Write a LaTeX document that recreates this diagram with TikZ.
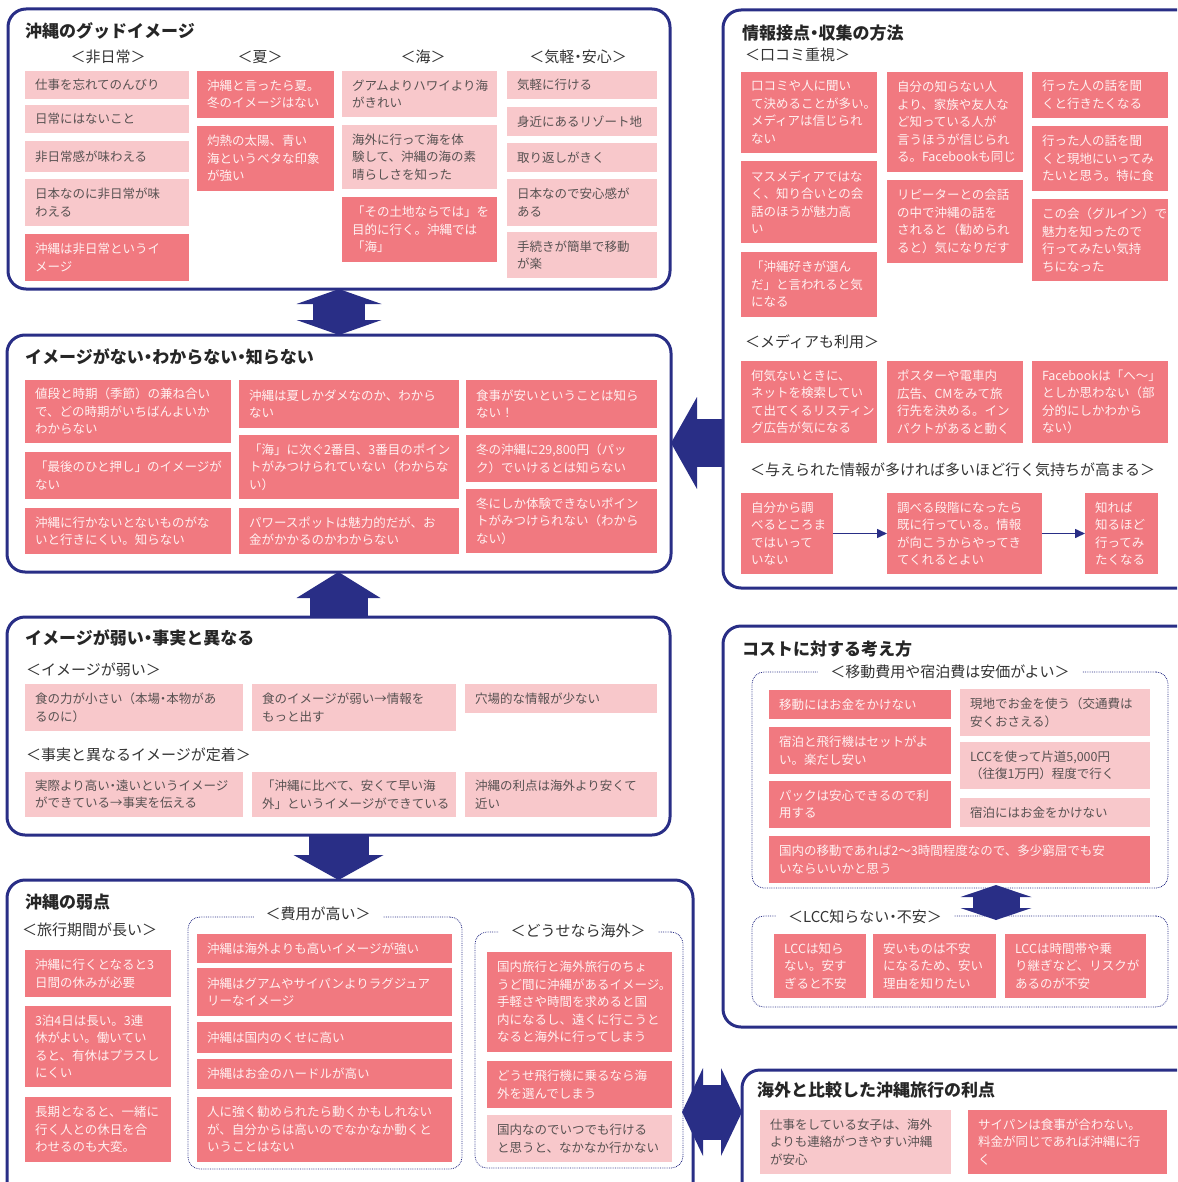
\documentclass[tikz,border=0pt]{standalone}
\usepackage{fontspec}
\setmainfont{Noto Sans CJK JP}
\usetikzlibrary{arrows.meta}

\definecolor{navy}{RGB}{41,46,134}
\definecolor{roze}{RGB}{241,121,128}
\definecolor{bledoroze}{RGB}{248,200,203}
\definecolor{svetlotekst}{RGB}{255,241,241}
\definecolor{tamnotekst}{RGB}{88,82,82}

\newcommand{\tacka}{\makebox[0.5em]{・}}

\begin{document}
\begin{tikzpicture}[x=1pt, y=-1pt,
    okvir/.style={rectangle, rounded corners=18pt, draw=navy, line width=3pt,
                  anchor=north west, inner sep=0pt, outer sep=0pt},
    grupa/.style={rectangle, rounded corners=12pt, draw=navy, densely dotted, line width=0.8pt,
                  anchor=north west, inner sep=0pt, outer sep=0pt},
    naslov/.style={anchor=west, inner sep=0pt, text=black!85,
                   font=\fontsize{17}{20}\selectfont\bfseries},
    podnaslov/.style={inner sep=0pt, text=black!80, font=\fontsize{15}{18}\selectfont},
    natpis/.style={podnaslov, fill=white, inner xsep=12pt, inner ysep=2pt},
    tamno/.style={rectangle, fill=roze, text=svetlotekst, anchor=north west, align=left,
                  inner xsep=10pt, inner ysep=2pt, outer sep=0pt,
                  font=\fontsize{12.5}{17.5}\selectfont},
    svetlo/.style={tamno, fill=bledoroze, text=tamnotekst},
    blok/.style={draw=navy},
    tok/.style={draw=navy, line width=1.5pt, -{Triangle[length=10pt, width=9pt]}}]

    \useasboundingbox (0,0) rectangle (1177,1182);
    \clip (0,0) rectangle (1177,1182);

    % ---------------- okviri ----------------
    \node (good)   [okvir, minimum width=662pt, minimum height=280pt] at (8,9)      {};
    \node (none)   [okvir, minimum width=664pt, minimum height=237pt] at (7,335)    {};
    \node (weak)   [okvir, minimum width=663pt, minimum height=218pt] at (7,617)    {};
    \node (points) [okvir, minimum width=686pt, minimum height=400pt] at (7,880)    {};
    \node (info)   [okvir, minimum width=500pt, minimum height=578pt] at (723,10)   {};
    \node (cost)   [okvir, minimum width=500pt, minimum height=401pt] at (723,626)  {};
    \node (merit)  [okvir, minimum width=480pt, minimum height=200pt] at (742,1070) {};

    \node (gk) [grupa, minimum width=274pt, minimum height=252pt] at (188,917) {};
    \node (gd) [grupa, minimum width=208pt, minimum height=236pt] at (475,932) {};
    \node (gi) [grupa, minimum width=416pt, minimum height=216pt] at (752,672) {};
    \node (gl) [grupa, minimum width=416pt, minimum height=91pt]  at (752,916) {};

    % ---------------- naslovi ----------------
    \node (t1) [naslov] at (25,31)    {沖縄のグッドイメージ};
    \node (t2) [naslov] at (25,357)   {イメージがない\tacka わからない\tacka 知らない};
    \node (t3) [naslov] at (25,638)   {イメージが弱い\tacka 事実と異なる};
    \node (t4) [naslov] at (25,902)   {沖縄の弱点};
    \node (t5) [naslov] at (742,33)   {情報接点\tacka 収集の方法};
    \node (t6) [naslov] at (742,649)  {コストに対する考え方};
    \node (t7) [naslov] at (757,1090) {海外と比較した沖縄旅行の利点};

    \node (h1)  [podnaslov] at (108,57) {＜非日常＞};
    \node (h2)  [podnaslov] at (260,57) {＜夏＞};
    \node (h3)  [podnaslov] at (423,57) {＜海＞};
    \node (h4)  [podnaslov] at (578,57) {＜気軽\tacka 安心＞};
    \node (h5)  [podnaslov, anchor=west] at (745,55)  {＜口コミ重視＞};
    \node (h6)  [podnaslov, anchor=west] at (745,342) {＜メディアも利用＞};
    \node (h7)  [podnaslov, anchor=west] at (750,470) {＜与えられた情報が多ければ多いほど行く気持ちが高まる＞};
    \node (h8)  [podnaslov, anchor=west] at (26,670)  {＜イメージが弱い＞};
    \node (h9)  [podnaslov, anchor=west] at (26,755)  {＜事実と異なるイメージが定着＞};
    \node (h10) [podnaslov, anchor=west] at (22,930)  {＜旅行期間が長い＞};

    \node (l1) [natpis] at (318,914) {＜費用が高い＞};
    \node (l2) [natpis] at (578,931) {＜どうせなら海外＞};
    \node (l3) [natpis] at (950,672) {＜移動費用や宿泊費は安価がよい＞};
    \node (l4) [natpis] at (865,917) {＜LCC知らない\tacka 不安＞};

    % ---------------- 沖縄のグッドイメージ ----------------
    \node (a1) [svetlo, text width=144pt, minimum height=28pt] at (25,71)  {仕事を忘れてのんびり};
    \node (a2) [svetlo, text width=144pt, minimum height=28pt] at (25,105) {日常にはないこと};
    \node (a3) [svetlo, text width=144pt, minimum height=31pt] at (25,141) {非日常感が味わえる};
    \node (a4) [svetlo, text width=144pt, minimum height=47pt] at (25,179) {日本なのに非日常が味\\わえる};
    \node (a5) [tamno,  text width=144pt, minimum height=47pt] at (25,234) {沖縄は非日常というイ\\メージ};
    \node (b1) [tamno,  text width=117pt, minimum height=47pt] at (197,71)  {沖縄と言ったら夏。\\冬のイメージはない};
    \node (b2) [tamno,  text width=117pt, minimum height=65pt] at (197,126) {灼熱の太陽、青い\\海というベタな印象\\が強い};
    \node (c1) [svetlo, text width=135pt, minimum height=46pt] at (342,71)  {グアムよりハワイより海\\がきれい};
    \node (c2) [svetlo, text width=135pt, minimum height=64pt] at (342,125) {海外に行って海を体\\験して、沖縄の海の素\\晴らしさを知った};
    \node (c3) [tamno,  text width=135pt, minimum height=65pt] at (342,197) {「その土地ならでは」を\\目的に行く。沖縄では\\「海」};
    \node (d1) [svetlo, text width=130pt, minimum height=28pt] at (507,71)  {気軽に行ける};
    \node (d2) [svetlo, text width=130pt, minimum height=29pt] at (507,107) {身近にあるリゾート地};
    \node (d3) [svetlo, text width=130pt, minimum height=29pt] at (507,143) {取り返しがきく};
    \node (d4) [svetlo, text width=130pt, minimum height=47pt] at (507,179) {日本なので安心感が\\ある};
    \node (d5) [svetlo, text width=130pt, minimum height=46pt] at (507,232) {手続きが簡単で移動\\が楽};

    % ---------------- イメージがない ----------------
    \node (e1) [tamno, text width=186pt, minimum height=63pt] at (25,380)  {値段と時期（季節）の兼ね合い\\で、どの時期がいちばんよいか\\わからない};
    \node (e2) [tamno, text width=186pt, minimum height=47pt] at (25,452)  {「最後のひと押し」のイメージが\\ない};
    \node (e3) [tamno, text width=186pt, minimum height=46pt] at (25,508)  {沖縄に行かないとないものがな\\いと行きにくい。知らない};
    \node (e4) [tamno, text width=200pt, minimum height=48pt] at (239,380) {沖縄は夏しかダメなのか、わから\\ない};
    \node (e5) [tamno, text width=200pt, minimum height=64pt] at (239,435) {「海」に次ぐ2番目、3番目のポイン\\トがみつけられていない（わからな\\い）};
    \node (e6) [tamno, text width=200pt, minimum height=46pt] at (239,508) {パワースポットは魅力的だが、お\\金がかかるのかわからない};
    \node (e7) [tamno, text width=171pt, minimum height=48pt] at (466,380) {食事が安いということは知ら\\ない！};
    \node (e8) [tamno, text width=171pt, minimum height=47pt] at (466,435) {冬の沖縄に29,800円（パッ\\ク）でいけるとは知らない};
    \node (e9) [tamno, text width=171pt, minimum height=64pt] at (466,489) {冬にしか体験できないポイン\\トがみつけられない（わから\\ない）};

    % ---------------- イメージが弱い ----------------
    \node (w1) [svetlo, text width=198pt, minimum height=47pt] at (25,684)  {食の力が小さい（本場\tacka 本物があ\\るのに）};
    \node (w2) [svetlo, text width=184pt, minimum height=47pt] at (252,684) {食のイメージが弱い→情報を\\もっと出す};
    \node (w3) [svetlo, text width=172pt, minimum height=29pt] at (465,684) {穴場的な情報が少ない};
    \node (w4) [svetlo, text width=198pt, minimum height=45pt] at (25,772)  {実際より高い\tacka 遠いというイメージ\\ができている→事実を伝える};
    \node (w5) [svetlo, text width=184pt, minimum height=45pt] at (252,772) {「沖縄に比べて、安くて早い海\\外」というイメージができている};
    \node (w6) [svetlo, text width=172pt, minimum height=45pt] at (465,772) {沖縄の利点は海外より安くて\\近い};

    % ---------------- 沖縄の弱点 ----------------
    \node (p1) [tamno,  text width=126pt, minimum height=47pt]  at (25,950)   {沖縄に行くとなると3\\日間の休みが必要};
    \node (p2) [tamno,  text width=126pt, minimum height=81pt]  at (25,1006)  {3泊4日は長い。3連\\休がよい。働いてい\\ると、有休はプラスし\\にくい};
    \node (p3) [tamno,  text width=126pt, minimum height=65pt]  at (25,1097)  {長期となると、一緒に\\行く人との休日を合\\わせるのも大変。};
    \node (k1) [tamno,  text width=235pt, minimum height=29pt]  at (197,934)  {沖縄は海外よりも高いイメージが強い};
    \node (k2) [tamno,  text width=235pt, minimum height=48pt]  at (197,968)  {沖縄はグアムやサイパンよりラグジュア\\リーなイメージ};
    \node (k3) [tamno,  text width=235pt, minimum height=31pt]  at (197,1022) {沖縄は国内のくせに高い};
    \node (k4) [tamno,  text width=235pt, minimum height=30pt]  at (197,1059) {沖縄はお金のハードルが高い};
    \node (k5) [tamno,  text width=235pt, minimum height=65pt]  at (197,1097) {人に強く勧められたら動くかもしれない\\が、自分からは高いのでなかなか動くと\\いうことはない};
    \node (o1) [tamno,  text width=165pt, minimum height=100pt] at (487,952)  {国内旅行と海外旅行のちょ\\うど間に沖縄があるイメージ。\\手軽さや時間を求めると国\\内になるし、遠くに行こうと\\なると海外に行ってしまう};
    \node (o2) [tamno,  text width=165pt, minimum height=47pt]  at (487,1061) {どうせ飛行機に乗るなら海\\外を選んでしまう};
    \node (o3) [svetlo, text width=165pt, minimum height=47pt]  at (487,1115) {国内なのでいつでも行ける\\と思うと、なかなか行かない};

    % ---------------- 情報接点・収集の方法 ----------------
    \node (i1) [tamno, text width=116pt, minimum height=81pt]  at (741,72)   {口コミや人に聞い\\て決めることが多い。\\メディアは信じられ\\ない};
    \node (i2) [tamno, text width=116pt, minimum height=82pt]  at (741,161)  {マスメディアではな\\く、知り合いとの会\\話のほうが魅力高\\い};
    \node (i3) [tamno, text width=116pt, minimum height=65pt]  at (741,252)  {「沖縄好きが選ん\\だ」と言われると気\\になる};
    \node (i4) [tamno, text width=116pt, minimum height=100pt] at (887,72)   {自分の知らない人\\より、家族や友人な\\ど知っている人が\\言うほうが信じられ\\る。Facebookも同じ};
    \node (i5) [tamno, text width=116pt, minimum height=83pt]  at (887,180)  {リピーターとの会話\\の中で沖縄の話を\\されると（勧められ\\ると）気になりだす};
    \node (i6) [tamno, text width=116pt, minimum height=46pt]  at (1032,72)  {行った人の話を聞\\くと行きたくなる};
    \node (i7) [tamno, text width=116pt, minimum height=65pt]  at (1032,126) {行った人の話を聞\\くと現地にいってみ\\たいと思う。特に食};
    \node (i8) [tamno, text width=116pt, minimum height=82pt]  at (1032,199) {この会（グルイン）で\\魅力を知ったので\\行ってみたい気持\\ちになった};
    \node (m1) [tamno, text width=116pt, minimum height=82pt]  at (741,361)  {何気ないときに、\\ネットを検索してい\\て出てくるリスティン\\グ広告が気になる};
    \node (m2) [tamno, text width=116pt, minimum height=82pt]  at (887,361)  {ポスターや電車内\\広告、CMをみて旅\\行先を決める。イン\\パクトがあると動く};
    \node (m3) [tamno, text width=116pt, minimum height=82pt]  at (1032,361) {Facebookは「へ～」\\としか思わない（部\\分的にしかわから\\ない）};
    \node (f1) [tamno, text width=72pt,  minimum height=81pt]  at (741,493)  {自分から調\\べるところま\\ではいって\\いない};
    \node (f2) [tamno, text width=135pt, minimum height=81pt]  at (887,493)  {調べる段階になったら\\既に行っている。情報\\が向こうからやってき\\てくれるとよい};
    \node (f3) [tamno, text width=53pt,  minimum height=81pt]  at (1085,493) {知れば\\知るほど\\行ってみ\\たくなる};

    % ---------------- コストに対する考え方 ----------------
    \node (q1) [tamno,  text width=162pt, minimum height=29pt] at (769,690) {移動にはお金をかけない};
    \node (q2) [tamno,  text width=162pt, minimum height=47pt] at (769,727) {宿泊と飛行機はセットがよ\\い。楽だし安い};
    \node (q3) [tamno,  text width=162pt, minimum height=47pt] at (769,781) {パックは安心できるので利\\用する};
    \node (q4) [svetlo, text width=170pt, minimum height=47pt] at (960,689) {現地でお金を使う（交通費は\\安くおさえる）};
    \node (q5) [svetlo, text width=170pt, minimum height=47pt] at (960,742) {LCCを使って片道5,000円\\（往復1万円）程度で行く};
    \node (q6) [svetlo, text width=170pt, minimum height=29pt] at (960,798) {宿泊にはお金をかけない};
    \node (q7) [tamno,  text width=361pt, minimum height=47pt] at (769,836) {国内の移動であれば2～3時間程度なので、多少窮屈でも安\\いならいいかと思う};
    \node (r1) [tamno,  text width=72pt,  minimum height=64pt] at (774,934)  {LCCは知ら\\ない。安す\\ぎると不安};
    \node (r2) [tamno,  text width=103pt, minimum height=64pt] at (873,934)  {安いものは不安\\になるため、安い\\理由を知りたい};
    \node (r3) [tamno,  text width=121pt, minimum height=64pt] at (1005,934) {LCCは時間帯や乗\\り継ぎなど、リスクが\\あるのが不安};

    % ---------------- 海外と比較した沖縄旅行の利点 ----------------
    \node (s1) [svetlo, text width=171pt, minimum height=64pt] at (760,1110) {仕事をしている女子は、海外\\よりも連絡がつきやすい沖縄\\が安心};
    \node (s2) [tamno,  text width=179pt, minimum height=64pt] at (968,1110) {サイパンは食事が合わない。\\料金が同じであれば沖縄に行\\く};

    % ---------------- strelice ----------------
    \coordinate (lv) at (682,1112);
    \coordinate (ng) at (996,885);
    \coordinate (nd) at (996,920);
    \draw [blok, line width=52pt, {Triangle[length=15pt, width=85pt, line width=0pt]}-{Triangle[length=15pt, width=85pt, line width=0pt]}] (good.south) -- (good.south |- none.north);
    \draw [blok, line width=58pt, -{Triangle[length=26pt, width=84pt, line width=0pt]}] (weak.north) -- (weak.north |- none.south);
    \draw [blok, line width=60pt, -{Triangle[length=25pt, width=90pt, line width=0pt]}] (weak.south) -- (weak.south |- points.north);
    \draw [blok, line width=48pt, -{Triangle[length=26pt, width=92pt, line width=0pt]}] (info.west |- 0,443) -- (none.east |- 0,443);
    \draw [blok, line width=55pt, {Triangle[length=21pt, width=88pt, line width=0pt]}-{Triangle[length=21pt, width=88pt, line width=0pt]}] (lv) -- (merit.west |- lv);
    \draw [blok, line width=47pt, {Triangle[length=12pt, width=71pt, line width=0pt]}-{Triangle[length=12pt, width=71pt, line width=0pt]}] (ng) -- (nd);
    \draw [tok] (f1) -- (f2);
    \draw [tok] (f2) -- (f3);
\end{tikzpicture}
\end{document}
